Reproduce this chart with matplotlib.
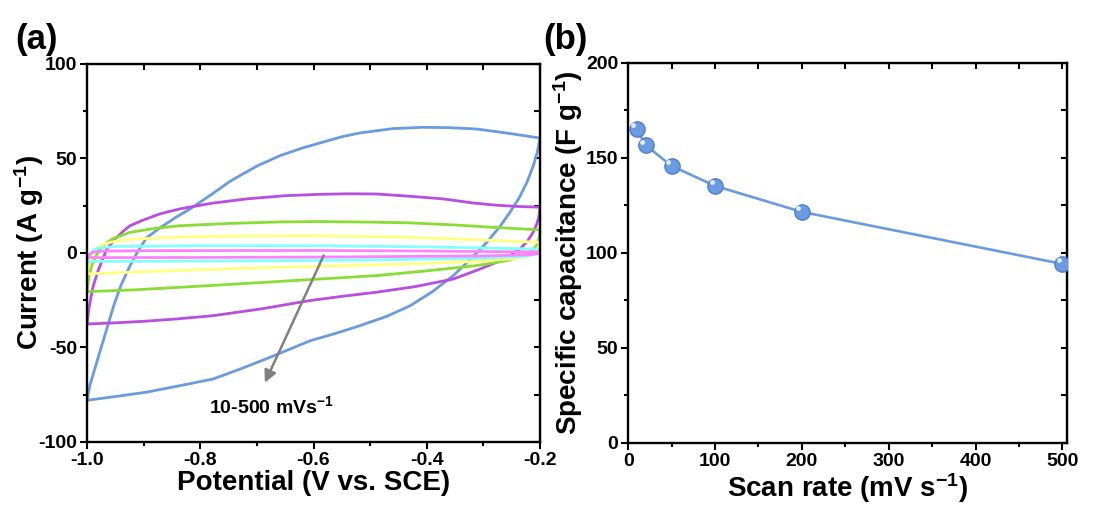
import matplotlib
matplotlib.use("Agg")
import matplotlib.pyplot as plt
from matplotlib.ticker import MultipleLocator
from matplotlib.transforms import offset_copy

# ---- CV loops (a): potential (V) / current (A g-1) ----
# each loop: upper (anodic) branch left->right, then lower (cathodic) branch right->left
cv_500_x = [-1.0, -0.995, -0.985, -0.977, -0.965, -0.953, -0.94, -0.924, -0.91, -0.895, -0.87, -0.845,
            -0.818, -0.78, -0.747, -0.70, -0.659, -0.62, -0.591, -0.55, -0.518, -0.46, -0.406, -0.36,
            -0.312, -0.26, -0.2,
            -0.205, -0.212, -0.223, -0.237, -0.253, -0.272, -0.294, -0.32, -0.353, -0.39, -0.429,
            -0.47, -0.518, -0.56, -0.606, -0.683, -0.73, -0.777, -0.84, -0.895, -0.95, -1.0]
cv_500_y = [-78, -70, -60, -52, -40, -28, -17, -6.7, 1, 8, 13.5, 18.5,
            23.3, 31, 38, 46, 51.5, 55.5, 58, 61.5, 63.5, 65.8, 66.5, 66.3,
            65.6, 63.5, 60.8,
            53, 46, 37.4, 29, 21.5, 13.5, 5.6, -2.5, -12, -20.5, -27.9,
            -33.5, -38.5, -42.5, -46.5, -56, -61.5, -66.7, -70.5, -73.7, -76, -78]

cv_200_x = [-1.0, -0.997, -0.993, -0.989, -0.98, -0.972, -0.965, -0.95, -0.935, -0.924, -0.90, -0.87,
            -0.836, -0.78, -0.718, -0.65, -0.591, -0.54, -0.489, -0.43, -0.371, -0.32, -0.283, -0.24, -0.2,
            -0.202, -0.206, -0.212, -0.222, -0.235, -0.255, -0.276, -0.31, -0.353, -0.42, -0.489,
            -0.55, -0.606, -0.69, -0.777, -0.84, -0.895, -0.95, -1.0]
cv_200_y = [-37.6, -30, -23, -17.3, -9, -3, 2.1, 7.5, 11.8, 14.4, 17.5, 20.8,
            23.3, 26.3, 28.6, 30.3, 31, 31.3, 31.2, 30, 28.6, 26.5, 25.4, 24.6, 24.2,
            19, 15, 11, 6.3, 2.1, -1.8, -4.9, -9, -13.8, -17.8, -20.8,
            -23, -25.2, -29.5, -33.2, -34.9, -36.1, -37, -37.6]

cv_100_x = [-1.0, -0.997, -0.992, -0.984, -0.972, -0.955, -0.924, -0.88, -0.836, -0.75, -0.66, -0.591,
            -0.5, -0.429, -0.35, -0.28, -0.2,
            -0.201, -0.203, -0.206, -0.215, -0.229, -0.26, -0.312, -0.4, -0.489, -0.6, -0.7,
            -0.836, -0.92, -1.0]
cv_100_y = [-20.5, -13, -6.7, -1.5, 3.9, 7.5, 10.9, 13, 14.4, 15.6, 16.4, 16.6,
            16.3, 15.9, 14.8, 13.5, 12.2,
            9, 6.5, 3.9, 1, -1.4, -4.2, -6.7, -9.5, -12, -14, -15.8,
            -18.2, -19.6, -20.5]

cv_50_x = [-1.0, -0.996, -0.99, -0.983, -0.97, -0.95, -0.924, -0.85, -0.75, -0.6, -0.45, -0.33, -0.2,
           -0.202, -0.206, -0.215, -0.232, -0.253, -0.32, -0.429, -0.6, -0.75, -0.9, -1.0]
cv_50_y = [-11.1, -5, -0.5, 2.5, 4.8, 6.2, 7.2, 8.3, 8.9, 9.1, 8.4, 7.2, 5.6,
           3.2, 1, -0.9, -2.2, -3.2, -4.6, -5.8, -7.1, -8.4, -10, -11.1]

cv_20_x = [-1.0, -0.997, -0.99, -0.98, -0.95, -0.8, -0.6, -0.4, -0.2,
           -0.203, -0.21, -0.23, -0.3, -0.45, -0.6, -0.8, -1.0]
cv_20_y = [-4.5, -1.5, 1.2, 2.6, 3.4, 3.8, 3.8, 3.2, 2.0,
           0.3, -0.9, -1.8, -2.8, -3.5, -4.0, -4.3, -4.5]

cv_10_x = [-1.0, -0.996, -0.988, -0.97, -0.9, -0.6, -0.4, -0.2,
           -0.205, -0.22, -0.3, -0.6, -0.8, -1.0]
cv_10_y = [-2.5, -0.8, 0.5, 1.0, 1.2, 1.3, 1.0, 0.5,
           -0.4, -1.0, -1.6, -2.2, -2.4, -2.5]

# ---- (b) specific capacitance vs scan rate ----
scan_rate = [10, 20, 50, 100, 200, 500]
capacitance = [165.3, 156.8, 145.8, 135.3, 121.6, 94.2]

plt.rcParams['font.family'] = ['Liberation Sans', 'DejaVu Sans']
plt.rcParams['font.weight'] = 'bold'
plt.rcParams['axes.unicode_minus'] = False
plt.rcParams['mathtext.fontset'] = 'custom'
plt.rcParams['mathtext.rm'] = 'Liberation Sans:bold'
plt.rcParams['mathtext.it'] = 'Liberation Sans:bold'
plt.rcParams['mathtext.bf'] = 'Liberation Sans:bold'

fig = plt.figure(figsize=(11.02, 5.12), dpi=100)
ax1 = fig.add_axes([0.079, 0.137, 0.411, 0.738])
ax2 = fig.add_axes([0.570, 0.135, 0.398, 0.742])

lw = 2.0
loops = [(cv_500_x, cv_500_y, '#6a9be0'), (cv_200_x, cv_200_y, '#b84ee0'),
         (cv_100_x, cv_100_y, '#88dd33'), (cv_50_x, cv_50_y, '#ffff80'),
         (cv_20_x, cv_20_y, '#80ffff'), (cv_10_x, cv_10_y, '#ff80ff')]
for xs, ys, c in loops:
    ax1.plot(xs, ys, color=c, lw=lw, solid_joinstyle='round')

ax1.annotate('', xy=(-0.688, -70), xytext=(-0.58, 0),
             arrowprops=dict(arrowstyle='-|>', color='#808080', lw=1.8, mutation_scale=18))
ax1.text(-0.675, -81, '10-500 mVs$^{-1}$', ha='center', va='center', fontsize=14, fontweight='bold')

ax1.set_xlim(-1.0, -0.2)
ax1.set_ylim(-100, 100)
ax1.xaxis.set_minor_locator(MultipleLocator(0.1))
ax1.yaxis.set_major_locator(MultipleLocator(50))
ax1.yaxis.set_minor_locator(MultipleLocator(25))
ax1.set_xticks([-1.0, -0.8, -0.6, -0.4, -0.2])
ax1.set_xticklabels(['-1.0', '-0.8', '-0.6', '-0.4', '-0.2'])
ax1.set_xlabel('Potential (V vs. SCE)', fontsize=20, fontweight='bold', labelpad=1)
ax1.set_ylabel('Current (A g$^{-1}$)', fontsize=20, fontweight='bold')
ax1.yaxis.set_label_coords(-0.09, 0.5)

ax2.plot(scan_rate, capacitance, color='#6a9be0', lw=1.9, zorder=2)
ax2.plot(scan_rate, capacitance, 'o', ms=11, mfc='#6a9be0', mec='#4f7fd0', mew=1, zorder=3)
hl = offset_copy(ax2.transData, fig=fig, x=-2.5, y=2.5, units='points')
ax2.plot(scan_rate, capacitance, 'o', ms=3.5, mfc='#eef4ff', mec='none', alpha=0.9,
         transform=hl, zorder=4)

ax2.set_xlim(0, 505)
ax2.set_ylim(0, 200)
ax2.xaxis.set_major_locator(MultipleLocator(100))
ax2.xaxis.set_minor_locator(MultipleLocator(50))
ax2.yaxis.set_major_locator(MultipleLocator(50))
ax2.yaxis.set_minor_locator(MultipleLocator(25))
ax2.set_xlabel('Scan rate (mV s$^{-1}$)', fontsize=20, fontweight='bold', labelpad=1)
ax2.set_ylabel('Specific capacitance (F g$^{-1}$)', fontsize=20, fontweight='bold')
ax2.yaxis.set_label_coords(-0.098, 0.5)

for ax in (ax1, ax2):
    for s in ax.spines.values():
        s.set_linewidth(1.7)
    ax.tick_params(which='major', direction='out', length=5, width=1.5, labelsize=14, pad=2)
    ax.tick_params(which='minor', direction='out', length=3, width=1.5)
    for lab in ax.get_xticklabels() + ax.get_yticklabels():
        lab.set_fontweight('bold')
    top = ax.secondary_xaxis('top')
    top.xaxis.set_major_locator(ax.xaxis.get_minor_locator())
    top.tick_params(direction='in', length=4, width=1.5, labeltop=False)
    right = ax.secondary_yaxis('right')
    right.yaxis.set_major_locator(ax.yaxis.get_minor_locator())
    right.tick_params(direction='in', length=4, width=1.5, labelright=False)

fig.text(0.014, 0.905, '(a)', fontsize=25, fontweight='bold')
fig.text(0.493, 0.905, '(b)', fontsize=25, fontweight='bold')

fig.savefig('out.png', dpi=100)
